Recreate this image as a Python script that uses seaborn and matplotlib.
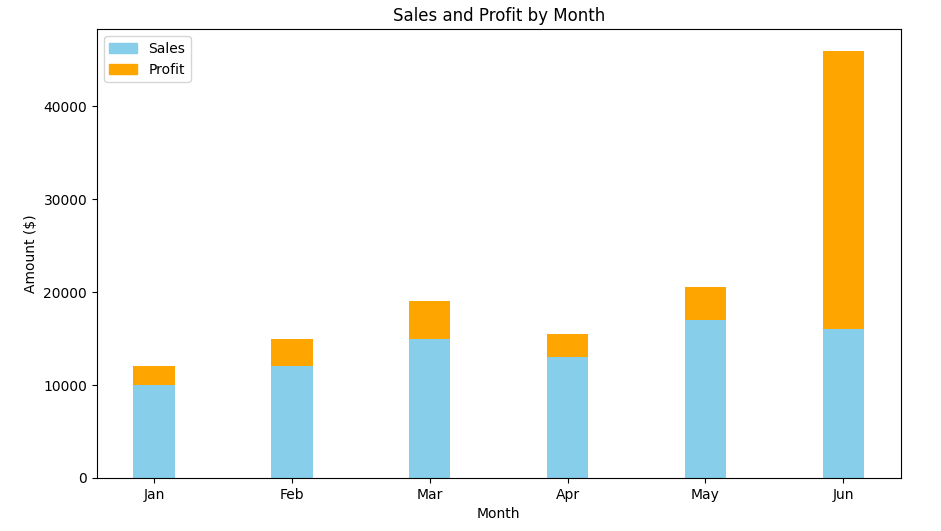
import numpy as np
import pandas as pd
import matplotlib
matplotlib.use("Agg")
import matplotlib.pyplot as plt
import seaborn as sns
from matplotlib.patches import Patch

months = ["Jan", "Feb", "Mar", "Apr", "May", "Jun"]
sales = [10000, 12000, 15000, 13000, 17000, 16000]
profit = [2000, 3000, 4000, 2500, 3500, 30000]

df = pd.DataFrame({"Month": months, "Sales": sales, "Profit": profit})
df["Total"] = df["Sales"] + df["Profit"]

fig, ax = plt.subplots(figsize=(9.41, 5.31), dpi=100)
# stacked look: draw the total in orange, then sales on top of it
sns.barplot(data=df, x="Month", y="Total", color="orange", width=0.3,
            saturation=1, ax=ax)
sns.barplot(data=df, x="Month", y="Sales", color="skyblue", width=0.3,
            saturation=1, ax=ax)

ax.set_xlim(-0.415, 5.415)
ax.set_title("Sales and Profit by Month")
ax.set_xlabel("Month")
ax.set_ylabel("Amount ($)")
ax.legend(handles=[Patch(color="skyblue", label="Sales"),
                   Patch(color="orange", label="Profit")], loc="upper left")

fig.subplots_adjust(left=0.103, right=0.957, top=0.945, bottom=0.1)
fig.savefig("out.png", dpi=100)
